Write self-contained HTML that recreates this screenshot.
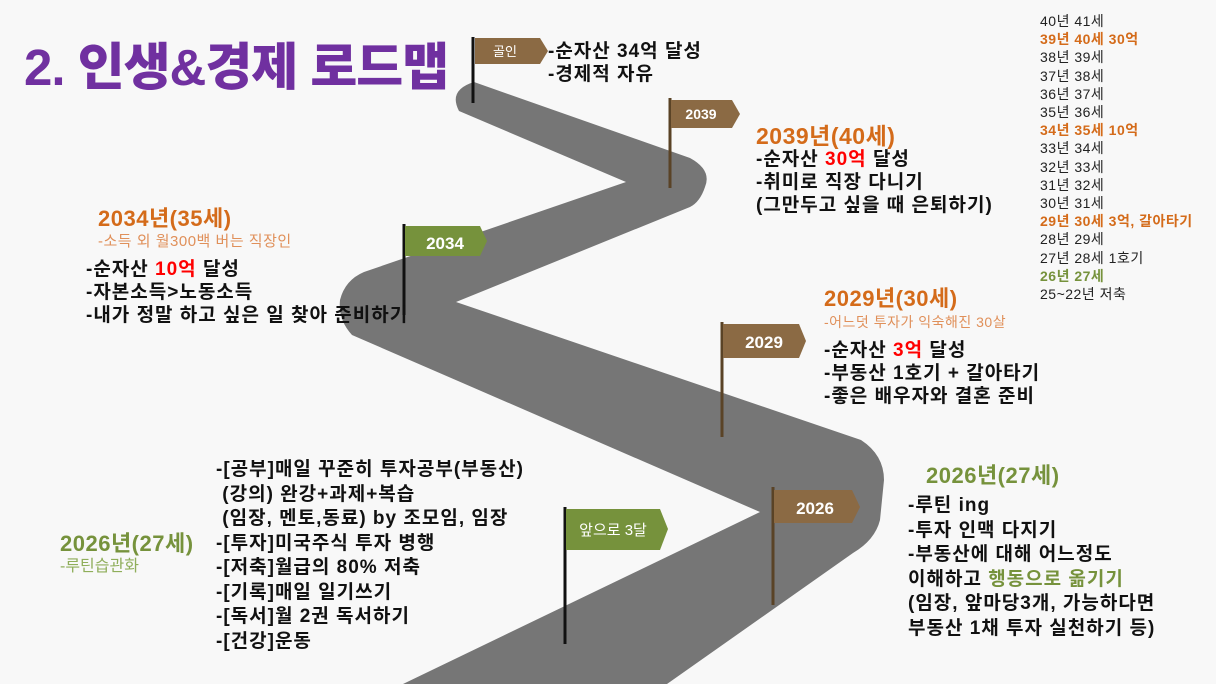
<!DOCTYPE html>
<html><head><meta charset="utf-8"><style>
body{margin:0;width:1216px;height:684px;overflow:hidden;background:#f8f8f8;font-family:"Liberation Sans","Noto Sans CJK KR",sans-serif;position:relative}
.t{position:absolute;white-space:nowrap}
.b{font-weight:bold;font-size:19px;line-height:23px;color:#111;letter-spacing:1px}
.or{color:#d46b1a}.gr{color:#76923c}.red{color:#ff0000}
.h{font-size:22px;font-weight:bold;letter-spacing:0.5px}
.list{position:absolute;left:1040px;top:12px;font-size:14px;line-height:18.2px;color:#222;letter-spacing:0.5px}
.list .o{color:#d46b1a;font-weight:bold}.list .g{color:#76923c;font-weight:bold}
</style></head><body>
<svg width="1216" height="684" style="position:absolute;left:0;top:0">
<path d="M459,111 Q448,90 474,82 L690,158 Q712,170 705,187 Q700,202 690,207 L456,302 L861,440 Q884,455 884,480 L880,520 Q875,540 853,553 L667,684 L403,684 L760,512 L352,335 Q338,320 340,300 Q345,280 364,272 L626,182 Z" fill="#767676"/>
<g>
<line x1="473" y1="37" x2="473" y2="103" stroke="#111" stroke-width="3"/>
<polygon points="475,38 540,38 548,51 540,64 475,64" fill="#8b6a44"/>
<text x="505" y="56" fill="#fff" font-size="13" text-anchor="middle" font-family="Liberation Sans,Noto Sans CJK KR,sans-serif">골인</text>
<line x1="670" y1="98" x2="670" y2="188" stroke="#5a4326" stroke-width="3"/>
<polygon points="671,100 732,100 740,114 732,128 671,128" fill="#8b6a44"/>
<text x="701" y="119" fill="#fff" font-size="14" font-weight="bold" text-anchor="middle" font-family="Liberation Sans,sans-serif">2039</text>
<line x1="404" y1="224" x2="404" y2="315" stroke="#111" stroke-width="3"/>
<polygon points="405,226 480,226 487,241 480,256 405,256" fill="#76923c"/>
<text x="445" y="249" fill="#fff" font-size="17" font-weight="bold" text-anchor="middle" font-family="Liberation Sans,sans-serif">2034</text>
<line x1="722" y1="322" x2="722" y2="437" stroke="#5a4326" stroke-width="3"/>
<polygon points="723,324 799,324 806,341 799,358 723,358" fill="#8b6a44"/>
<text x="764" y="348" fill="#fff" font-size="17" font-weight="bold" text-anchor="middle" font-family="Liberation Sans,sans-serif">2029</text>
<line x1="773" y1="487" x2="773" y2="605" stroke="#5a4326" stroke-width="3"/>
<polygon points="774,490 852,490 860,507 852,523 774,523" fill="#8b6a44"/>
<text x="815" y="514" fill="#fff" font-size="17" font-weight="bold" text-anchor="middle" font-family="Liberation Sans,sans-serif">2026</text>
<line x1="565" y1="507" x2="565" y2="644" stroke="#111" stroke-width="3"/>
<polygon points="566,509 660,509 668,529 660,550 566,550" fill="#76923c"/>
<text x="613" y="535" fill="#fff" font-size="15" text-anchor="middle" font-family="Liberation Sans,Noto Sans CJK KR,sans-serif">앞으로 3달</text>
</g>
</svg>
<div class="t" style="left:24px;top:26px;font-size:51px;font-weight:900;color:#7030a0;letter-spacing:-1px">2. 인생&amp;경제 로드맵</div>
<div class="t b" style="left:548px;top:40px">-순자산 34억 달성<br>-경제적 자유</div>
<div class="t or h" style="left:756px;top:117px;font-size:23px">2039년(40세)</div>
<div class="t b" style="left:756px;top:148px">-순자산 <span class="red">30억</span> 달성<br>-취미로 직장 다니기<br>(그만두고 싶을 때 은퇴하기)</div>
<div class="t or h" style="left:98px;top:201px">2034년(35세)</div>
<div class="t" style="left:98px;top:230px;font-size:15px;color:#e0905a;letter-spacing:0.5px">-소득 외 월300백 버는 직장인</div>
<div class="t b" style="left:86px;top:258px">-순자산 <span class="red">10억</span> 달성<br>-자본소득&gt;노동소득<br>-내가 정말 하고 싶은 일 찾아 준비하기</div>
<div class="t or h" style="left:824px;top:281px">2029년(30세)</div>
<div class="t" style="left:824px;top:312px;font-size:14px;color:#e0905a;letter-spacing:0.5px">-어느덧 투자가 익숙해진 30살</div>
<div class="t b" style="left:824px;top:339px">-순자산 <span class="red">3억</span> 달성<br>-부동산 1호기 + 갈아타기<br>-좋은 배우자와 결혼 준비</div>
<div class="t gr h" style="left:926px;top:458px">2026년(27세)</div>
<div class="t b" style="left:908px;top:494px;line-height:24.5px">-루틴 ing<br>-투자 인맥 다지기<br>-부동산에 대해 어느정도<br>이해하고 <span class="gr">행동으로 옮기기</span><br>(임장, 앞마당3개, 가능하다면<br>부동산 1채 투자 실천하기 등)</div>
<div class="t gr h" style="left:60px;top:526px">2026년(27세)</div>
<div class="t" style="left:60px;top:552px;font-size:16px;color:#8fae5a">-루틴습관화</div>
<div class="t b" style="left:216px;top:458px;line-height:24.5px">-[공부]매일 꾸준히 투자공부(부동산)<br>&nbsp;(강의) 완강+과제+복습<br>&nbsp;(임장, 멘토,동료) by 조모임, 임장<br>-[투자]미국주식 투자 병행<br>-[저축]월급의 80% 저축<br>-[기록]매일 일기쓰기<br>-[독서]월 2권 독서하기<br>-[건강]운동</div>
<div class="list">40년 41세<br><span class="o">39년 40세 30억</span><br>38년 39세<br>37년 38세<br>36년 37세<br>35년 36세<br><span class="o">34년 35세 10억</span><br>33년 34세<br>32년 33세<br>31년 32세<br>30년 31세<br><span class="o">29년 30세 3억, 갈아타기</span><br>28년 29세<br>27년 28세 1호기<br><span class="g">26년 27세</span><br>25~22년 저축</div>
</body></html>
